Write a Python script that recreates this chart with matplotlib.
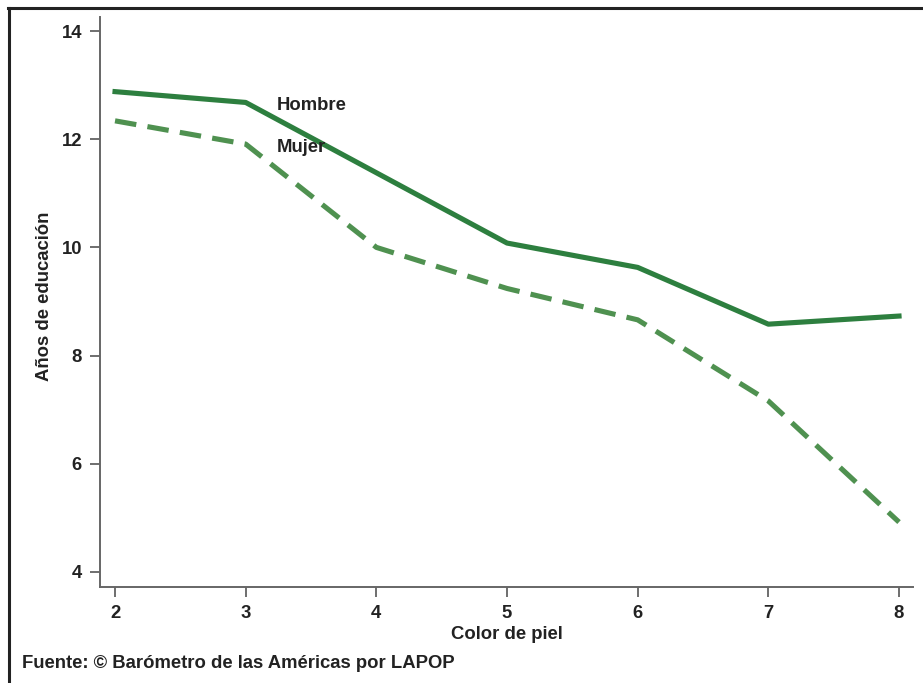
import matplotlib.pyplot as plt
from matplotlib.lines import Line2D

plt.rcParams['font.family'] = ['Liberation Sans', 'DejaVu Sans']
plt.rcParams['font.weight'] = 'bold'

# datos
color_piel = [2, 3, 4, 5, 6, 7, 8]
hombre = [12.88, 12.68, 11.38, 10.08, 9.63, 8.58, 8.73]
mujer = [12.34, 11.91, 10.00, 9.24, 8.66, 7.16, 4.92]
y_ticks = [4, 6, 8, 10, 12, 14]

W, H = 923, 683
fs = 13.3
fig = plt.figure(figsize=(W / 100, H / 100), dpi=100)
ax = fig.add_axes([100 / W, 1 - 587 / H, (913 - 100) / W, (587 - 17) / H])

ax.plot(color_piel, hombre, color='#2d7f3f', lw=3.7, solid_joinstyle='round')
ax.plot(color_piel, mujer, color='#4f9150', lw=3.7, dashes=(4.2, 2.2))

ax.text(3.24, 12.63, 'Hombre', fontsize=fs, fontweight='bold', color='#222222', ha='left', va='center')
ax.text(3.24, 11.84, 'Mujer', fontsize=fs, fontweight='bold', color='#222222', ha='left', va='center')

ax.set_xlim(1.885, 8.107)
ax.set_ylim(3.72, 14.26)
ax.set_xticks(color_piel)
ax.set_yticks(y_ticks)
for s in ['top', 'right']:
    ax.spines[s].set_visible(False)
for s in ['left', 'bottom']:
    ax.spines[s].set_color('#666666')
    ax.spines[s].set_linewidth(1.4)
ax.tick_params(colors='#555555', labelcolor='#222222', labelsize=fs, length=7, width=1.2, pad=6)
ax.set_xlabel('Color de piel', fontsize=fs, fontweight='bold', color='#222222', labelpad=3)
ax.set_ylabel('Años de educación', fontsize=fs, fontweight='bold', color='#222222')
ax.yaxis.set_label_coords(-0.058, 0.51)

fig.text(22 / W, 1 - 664 / H, 'Fuente: © Barómetro de las Américas por LAPOP', fontsize=fs,
         fontweight='bold', color='#222222', ha='left', va='center')

# marco de la figura (arriba e izquierda)
fig.add_artist(Line2D([9 / W, 9 / W], [0, 1 - 8 / H], transform=fig.transFigure, color='#222222', lw=2.2))
fig.add_artist(Line2D([8 / W, 1], [1 - 8 / H, 1 - 8 / H], transform=fig.transFigure, color='#222222', lw=2.2))

fig.savefig('out.png', dpi=100)
